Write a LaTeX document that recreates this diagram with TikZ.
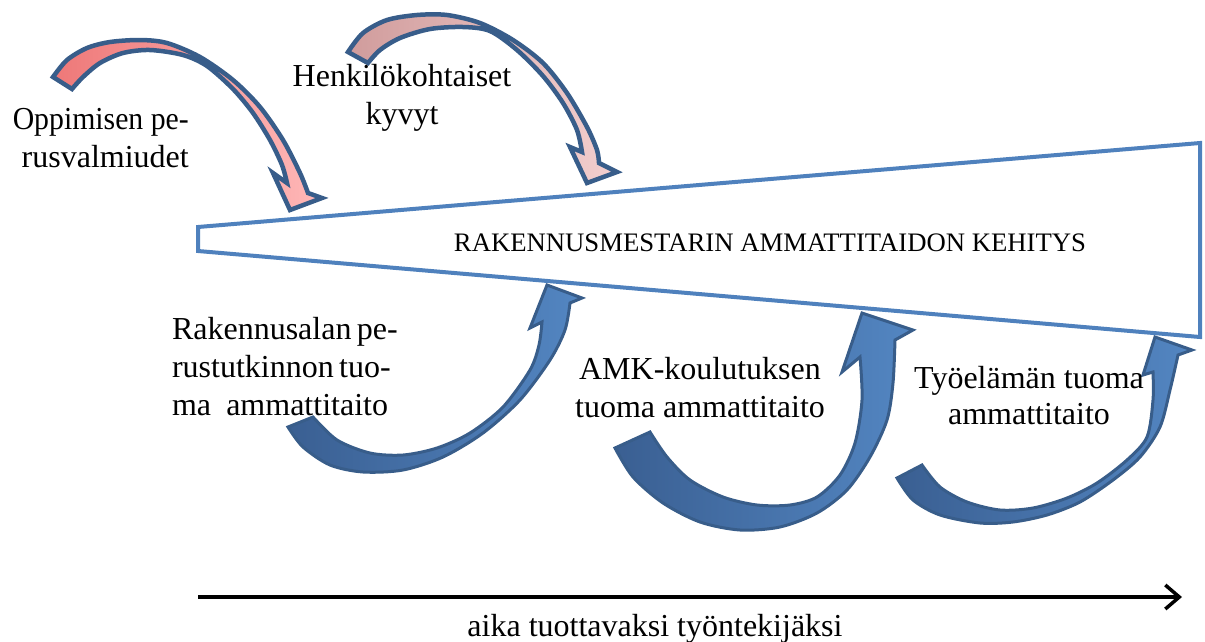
\documentclass[tikz,border=0pt]{standalone}
\usepackage{fontspec}
\usepackage{graphicx}
\setmainfont{Liberation Serif}
\usetikzlibrary{arrows.meta}

\definecolor{wedgeblue}{HTML}{4F81BD}
\definecolor{rimblue}{HTML}{385D8A}
\definecolor{rosedark}{HTML}{EE7878}
\definecolor{roselight}{HTML}{FFB8B8}
\definecolor{dustdark}{HTML}{D09C9C}
\definecolor{dustlight}{HTML}{F3CFCF}
\definecolor{navydark}{HTML}{3A5F92}
\definecolor{navylight}{HTML}{5386C2}

\tikzset{
  wedge/.style={draw=wedgeblue, line width=4pt, fill=white},
  pinkband/.style={draw=rimblue, line width=4.5pt, line join=miter},
  blueband/.style={draw=rimblue, line width=3pt, line join=miter},
  lbl/.style={font=\fontsize{32}{38}\selectfont, inner sep=0pt, align=center},
  title/.style={font=\fontsize{26.7}{30}\selectfont, inner sep=0pt},
  timeline/.style={line width=3.5pt, -{Straight Barb[length=14pt,width=24pt]}},
}

\begin{document}
\begin{tikzpicture}[x=1pt, y=-1pt]
\useasboundingbox (0,0) rectangle (1205,641);

% growing wedge
\draw[wedge] (198,227) -- (1200,143) -- (1200,337) -- (198,251) -- cycle;
\node[title] (kehitys) at (770,243) {RAKENNUSMESTARIN AMMATTITAIDON KEHITYS};

% curved arrow: Oppimisen perusvalmiudet
\path[pinkband, left color=rosedark, right color=roselight]
  plot[smooth] coordinates {(53,77) (67,60) (87,48) (110,42) (140,40) (167,43)
    (200,57) (233,80) (260,107) (283,140) (300,173) (308,193)}
  -- (322,198) -- (290,210) -- (273,173) -- (287,183)
  -- plot[smooth] coordinates {(287,183) (282,165) (270,140) (253,113) (233,89)
    (207,66) (183,55) (150,50) (123,53) (100,63) (83,77) (72,89)}
  -- cycle;

% curved arrow: Henkilokohtaiset kyvyt
\path[pinkband, left color=dustdark, right color=dustlight]
  plot[smooth] coordinates {(348,52) (363,33) (387,20) (417,15) (447,15) (480,23)
    (513,40) (543,63) (567,93) (587,127) (597,150) (599,163)}
  -- (617,172) -- (587,183) -- (570,147) -- (582,152)
  -- plot[smooth] coordinates {(582,152) (577,130) (563,103) (543,76) (517,50)
    (490,31) (463,27) (430,29) (400,38) (380,50) (368,63)}
  -- cycle;

% curved arrow: perustutkinto
\path[blueband, left color=navydark, right color=navylight]
  plot[smooth] coordinates {(288,427) (303,447) (330,465) (363,472) (403,470)
    (443,457) (483,433) (520,400) (550,360) (565,330) (570,303)}
  -- (582,298) -- (547,285) -- (530,328) -- (542,322)
  -- plot[smooth] coordinates {(542,322) (539,345) (530,370) (503,407) (470,433)
    (437,448) (403,455) (370,453) (337,440) (313,417)}
  -- cycle;

% curved arrow: AMK-koulutus
\path[blueband, left color=navydark, right color=navylight]
  plot[smooth] coordinates {(615,448) (633,477) (663,503) (700,522) (740,530)
    (780,527) (817,513) (847,490) (870,457) (887,420) (893,383) (895,340)}
  -- (913,330) -- (862,313) -- (842,372) -- (860,357)
  -- plot[smooth] coordinates {(860,357) (862,400) (855,443) (840,475) (817,497)
    (790,505) (757,505) (723,497) (690,480) (667,457) (650,432)}
  -- cycle;

% curved arrow: tyoelama
\path[blueband, left color=navydark, right color=navylight]
  plot[smooth] coordinates {(897,478) (913,500) (940,515) (980,523) (1013,522)
    (1047,515) (1080,502) (1113,480) (1140,457) (1160,427) (1170,390) (1178,355)}
  -- (1192,350) -- (1155,337) -- (1143,375) -- (1153,372)
  -- plot[smooth] coordinates {(1153,372) (1153,400) (1147,437) (1127,460)
    (1097,483) (1067,498) (1033,508) (1000,510) (967,502) (940,487) (922,465)}
  -- cycle;

% labels
\node[lbl, align=right, anchor=east] (oppi) at (189,138)
  {\scalebox{0.93}[1]{Oppimisen pe-}\\rusvalmiudet};
\node[lbl] (henk) at (402,98) {Henkilökohtaiset\\kyvyt};
\node[lbl] (perus) at (280,367)
  {\makebox[216pt][s]{Rakennusalan pe-}\\\makebox[216pt][s]{rustutkinnon tuo-}\\\makebox[216pt][s]{ma ammattitaito}};
\node[lbl] (amk) at (700,388) {AMK-koulutuksen\\tuoma ammattitaito};
\node[lbl, font=\fontsize{32}{36}\selectfont] (tyo) at (1029,396) {Työelämän tuoma\\ammattitaito};

% time axis
\coordinate (tstart) at (198,597);
\coordinate (tend) at (1182,597);
\draw[timeline] (tstart) -- (tend);
\node[lbl, anchor=base] (aika) at (655,636) {aika tuottavaksi työntekijäksi};
\end{tikzpicture}
\end{document}
